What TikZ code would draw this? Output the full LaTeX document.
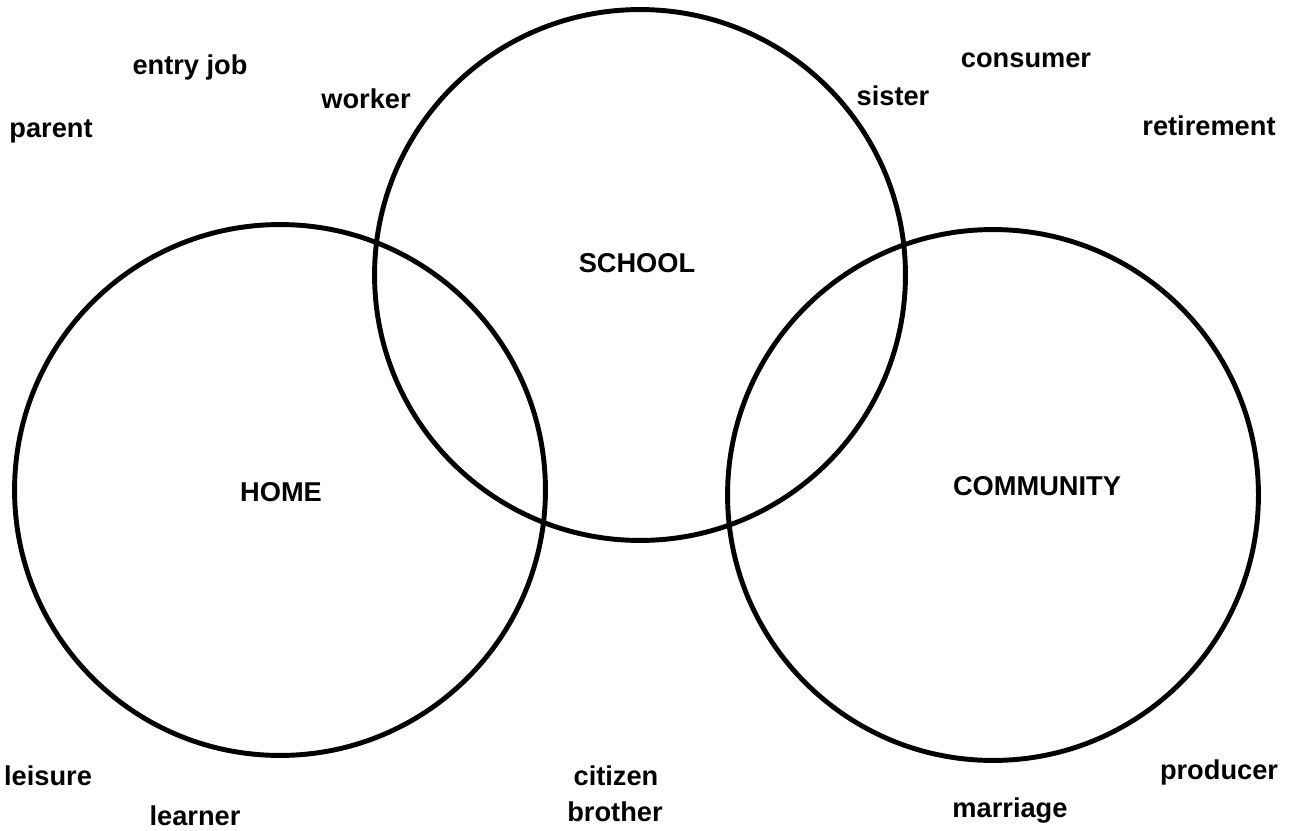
\documentclass[tikz,border=0pt]{standalone}
\usepackage{fontspec}
\setmainfont{Liberation Sans}
\usepackage{tikz}

\tikzset{
    ring/.style={circle, draw, line width=2.8pt, minimum size=10.62cm, inner sep=0pt},
    word/.style={anchor=base, font=\fontsize{15.5}{18}\selectfont\bfseries},
    place/.style={anchor=base, font=\fontsize{15.5}{18}\selectfont\bfseries}
}

\begin{document}
\begin{tikzpicture}[x=0.02cm, y=-0.02cm]
            \useasboundingbox (0,0) rectangle (1294,831);
            \node[ring](home)      at (280,490) {};
            \node[ring](school)    at (640,275) {};
            \node[ring](community) at (993,495) {};

            \node[place](HOME)      at (281,501)  {HOME};
            \node[place](SCHOOL)    at (637,272)  {SCHOOL};
            \node[place](COMMUNITY) at (1037,495) {COMMUNITY};

            \node[word](entryjob)   at (190,75)   {entry job};
            \node[word](worker)     at (366,109)  {worker};
            \node[word](parent)     at (51,138)   {parent};
            \node[word](sister)     at (893,106)  {sister};
            \node[word](consumer)   at (1026,68)  {consumer};
            \node[word](retirement) at (1209,136) {retirement};
            \node[word](leisure)    at (48,785)   {leisure};
            \node[word](learner)    at (195,825)  {learner};
            \node[word](citizen)    at (616,785)  {citizen};
            \node[word](brother)    at (615,821)  {brother};
            \node[word](producer)   at (1219,779) {producer};
            \node[word](marriage)   at (1010,817) {marriage};
        \end{tikzpicture}
\end{document}
